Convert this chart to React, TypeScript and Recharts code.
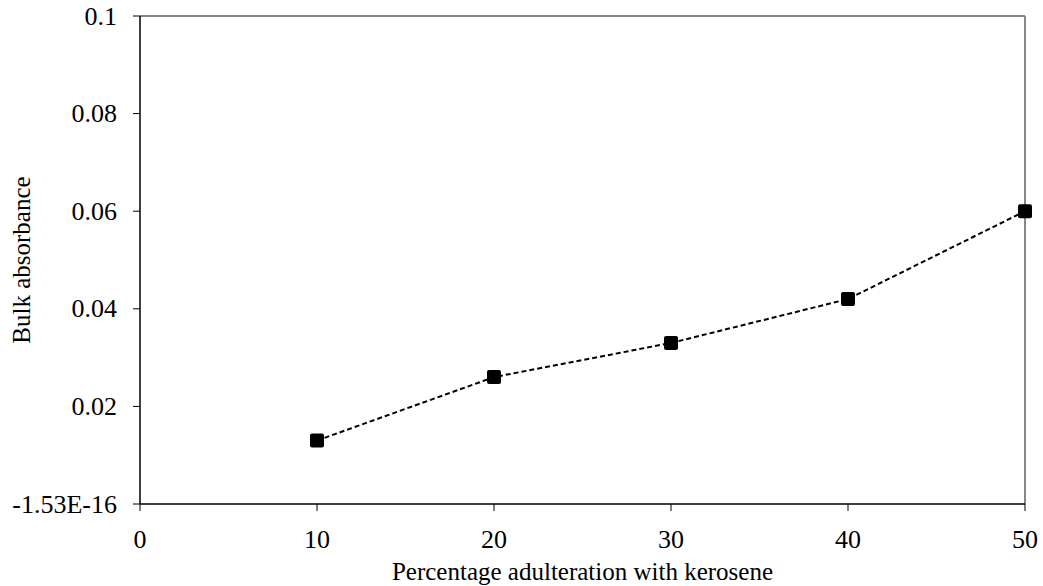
import React from 'react';
import { LineChart, Line, XAxis, YAxis, ReferenceLine } from 'recharts';

const adulteration = [10, 20, 30, 40, 50];
const absorbance = [0.013, 0.026, 0.033, 0.042, 0.06];

const xTicks = [0, 10, 20, 30, 40, 50];
const yTicks = [0, 0.02, 0.04, 0.06, 0.08, 0.1];
const yTickLabels = ['-1.53E-16', '0.02', '0.04', '0.06', '0.08', '0.1'];

const data = adulteration.map((x, i) => ({ x, y: absorbance[i] }));

const font = '"Times New Roman", "Liberation Serif", serif';
const fs = 26;
const titleFs = 25;

const SquareDot = (props: any) => {
  const { cx, cy } = props;
  if (cx == null || cy == null) return null;
  return <rect x={cx - 7} y={cy - 7} width={14} height={14} rx={2} fill="#000" />;
};

const XTick = ({ x, y, payload }: any) => (
  <text x={x} y={y + 23} textAnchor="middle" dominantBaseline="central" fontFamily={font} fontSize={fs} fill="#000">
    {payload.value}
  </text>
);

const YTick = ({ x, y, payload }: any) => (
  <text x={x} y={y} textAnchor="end" dominantBaseline="central" fontFamily={font} fontSize={fs} fill="#000">
    {yTickLabels[yTicks.indexOf(payload.value)] ?? String(payload.value)}
  </text>
);

const YLabel = ({ viewBox }: any) => {
  const cy = viewBox.y + viewBox.height / 2;
  return (
    <text x={21} y={cy} transform={`rotate(-90, 21, ${cy})`} textAnchor="middle" dominantBaseline="central"
      fontFamily={font} fontSize={titleFs} fill="#000">
      Bulk absorbance
    </text>
  );
};

const XLabel = ({ viewBox }: any) => {
  const cx = viewBox.x + viewBox.width / 2;
  return (
    <text x={cx} y={571} textAnchor="middle" dominantBaseline="central" fontFamily={font} fontSize={titleFs} fill="#000">
      Percentage adulteration with kerosene
    </text>
  );
};

export default function App() {
  return (
    <div style={{ position: 'absolute', left: 0, top: 0, background: '#fff' }}>
      <LineChart width={1043} height={586} data={data} margin={{ top: 16, right: 18, left: 0, bottom: 0 }}>
        <ReferenceLine y={0.1} stroke="#868686" strokeWidth={2} />
        <ReferenceLine x={50} stroke="#868686" strokeWidth={2} />
        <XAxis
          dataKey="x"
          type="number"
          domain={[0, 50]}
          ticks={xTicks}
          height={82}
          tickSize={7}
          tickMargin={5}
          axisLine={{ stroke: '#000', strokeWidth: 1.5 }}
          tickLine={{ stroke: '#000' }}
          tick={<XTick />}
          label={<XLabel />}
        />
        <YAxis
          type="number"
          domain={[0, 0.1]}
          ticks={yTicks}
          width={140}
          tickSize={7}
          tickMargin={16}
          axisLine={{ stroke: '#000', strokeWidth: 1.5 }}
          tickLine={{ stroke: '#000' }}
          tick={<YTick />}
          label={<YLabel />}
        />
        <Line
          dataKey="y"
          stroke="#000"
          strokeWidth={2}
          strokeDasharray="5 3"
          dot={<SquareDot />}
          activeDot={false}
          isAnimationActive={false}
        />
      </LineChart>
    </div>
  );
}
